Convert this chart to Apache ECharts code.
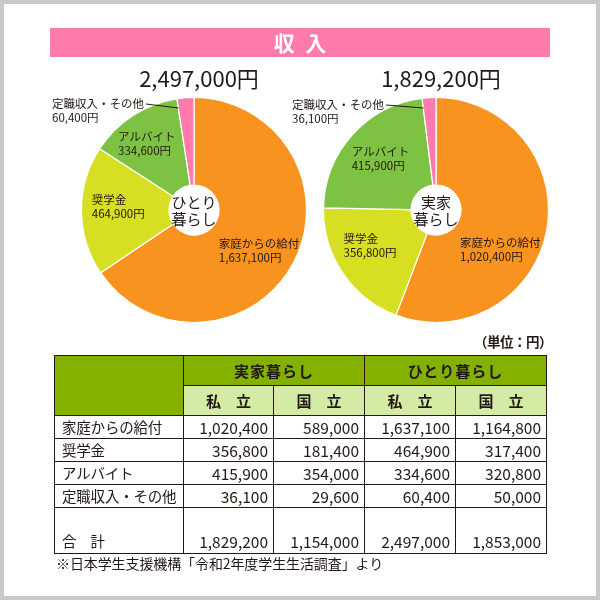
<!DOCTYPE html>
<html>
<head>
<meta charset="utf-8">
<script src="https://cdn.jsdelivr.net/npm/echarts@6/dist/echarts.min.js"></script>
<style>
html,body{margin:0;padding:0;background:#fff;}
#frame{position:relative;width:600px;height:600px;background:#c9c9c9;overflow:hidden;font-family:'Noto Sans CJK JP','Noto Sans',sans-serif;color:#231815;}
#inner{position:absolute;left:4px;top:4px;width:592px;height:592px;background:#fff;}
#chart{position:absolute;left:0;top:0;width:600px;height:600px;}
#unit{position:absolute;left:440px;width:112px;text-align:right;top:331px;font-size:13.5px;font-weight:bold;line-height:20px;letter-spacing:-0.5px;}
#tbl{position:absolute;left:54px;top:355px;border-collapse:collapse;table-layout:fixed;width:493px;}
#tbl td{border:1px solid #231815;padding:0;font-size:15px;line-height:18px;white-space:nowrap;overflow:hidden;}
#tbl td.hd1{background:#84B100;font-weight:bold;text-align:center;letter-spacing:1px;}
#tbl td.hd2{background:#D3EBA5;font-weight:bold;text-align:center;}
#tbl td.rowname{padding-left:7px;text-align:left;font-size:14.5px;letter-spacing:-0.2px;}
#tbl td.num{padding-right:5px;text-align:right;font-size:15.5px;}
#tbl tr.total td{vertical-align:bottom;padding-bottom:3px;}
#note{position:absolute;left:56px;top:553px;font-size:14px;line-height:20px;white-space:nowrap;letter-spacing:-0.1px;}
</style>
</head>
<body>
<div id="frame">
  <div id="inner"></div>
  <div id="chart"></div>
  <div id="unit"></div>
  <table id="tbl"></table>
  <div id="note">※日本学生支援機構「令和2年度学生生活調査」より</div>
</div>
<script>
// ---- data ----
const pieCategories = ['家庭からの給付', '奨学金', 'アルバイト', '定職収入・その他'];
const hitoriValues = [1637100, 464900, 334600, 60400];
const jikkaValues = [1020400, 356800, 415900, 36100];
const pieTotals = [2497000, 1829200];
const pieCenterTitles = ['ひとり\n暮らし', '実家\n暮らし'];
const bannerTitle = '収\u2002入';

const tableGroupHeaders = ['実家暮らし', 'ひとり暮らし'];
const tableSubHeaders = ['私　立', '国　立', '私　立', '国　立'];
const tableRowNames = ['家庭からの給付', '奨学金', 'アルバイト', '定職収入・その他', '合　計'];
const jikkaShiritsu = [1020400, 356800, 415900, 36100, 1829200];
const jikkaKokuritsu = [589000, 181400, 354000, 29600, 1154000];
const hitoriShiritsu = [1637100, 464900, 334600, 60400, 2497000];
const hitoriKokuritsu = [1164800, 317400, 320800, 50000, 1853000];
const unitLabel = '（単位：円）';

// ---- styles / layout ----
const sliceColors = ['#F7931E', '#D7DF23', '#7DC242', '#FF7BAC'];
const pieCenters = [[194, 210], [436, 210]];
const pieRadius = [25, 112.5];
const labelOffsets = [
  [[-38.5, 6.5], [-30.5, -4], [-37, -6.5]],
  [[-46.5, 26.5], [-33, -4.3], [-31, -3]]
];
const pinkLabelPos = [[52, 111], [292, 112]];
const colWidths = [129, 90, 91, 91, 91];
const rowHeights = [30, 30, 23, 23, 23, 23, 46];
const FONT = "'Noto Sans CJK JP', 'Noto Sans', sans-serif";
const TXT = '#231815';

function fmt(n) { return n.toLocaleString('en-US'); }

// ---- table ----
(function buildTable() {
  const t = document.getElementById('tbl');
  let h = '<colgroup>' + colWidths.map(w => '<col style="width:' + w + 'px">').join('') + '</colgroup>';
  h += '<tr style="height:' + rowHeights[0] + 'px"><td class="hd1" rowspan="2"></td>' +
       tableGroupHeaders.map(g => '<td class="hd1" colspan="2">' + g + '</td>').join('') + '</tr>';
  h += '<tr style="height:' + rowHeights[1] + 'px">' + tableSubHeaders.map(s => '<td class="hd2">' + s + '</td>').join('') + '</tr>';
  const cols = [jikkaShiritsu, jikkaKokuritsu, hitoriShiritsu, hitoriKokuritsu];
  tableRowNames.forEach((name, r) => {
    const cls = r === tableRowNames.length - 1 ? ' class="total"' : '';
    h += '<tr' + cls + ' style="height:' + rowHeights[r + 2] + 'px"><td class="rowname">' + name + '</td>' +
         cols.map(c => '<td class="num">' + fmt(c[r]) + '</td>').join('') + '</tr>';
  });
  t.innerHTML = h;
  document.getElementById('unit').textContent = unitLabel;
})();

// ---- chart ----
const labelBase = {
  formatter: p => p.name + '\n' + fmt(p.value) + '円',
  color: TXT,
  fontSize: 11.5,
  lineHeight: 14,
  fontFamily: FONT
};

// main pie: slices + inside labels
function makeSeries(values, si) {
  return {
    type: 'pie',
    z: 2,
    center: pieCenters[si],
    radius: pieRadius,
    startAngle: 90,
    clockwise: true,
    avoidLabelOverlap: false,
    silent: true,
    itemStyle: { borderColor: '#ffffff', borderWidth: 1.2 },
    label: Object.assign({ show: true, position: 'inside' }, labelBase),
    labelLine: { show: false },
    emphasis: { disabled: true },
    data: values.map((v, i) => {
      const d = { value: v, name: pieCategories[i], itemStyle: { color: sliceColors[i] } };
      if (i === 3) d.label = { show: false };
      return d;
    }),
    labelLayout: function (p) {
      const off = labelOffsets[si][p.dataIndex];
      if (!off) return {};
      return {
        x: p.labelRect.x + p.labelRect.width / 2 + off[0],
        y: p.labelRect.y + p.labelRect.height / 2 + off[1],
        align: 'left', verticalAlign: 'middle'
      };
    }
  };
}

// overlay pie (transparent) drawing the small-slice label and its leader line on top
function makeOverlay(values, si) {
  return {
    type: 'pie',
    z: 5,
    center: pieCenters[si],
    radius: pieRadius,
    startAngle: 90,
    clockwise: true,
    avoidLabelOverlap: false,
    silent: true,
    itemStyle: { color: 'rgba(0,0,0,0)', borderWidth: 0 },
    label: Object.assign({ show: false, position: 'outside' }, labelBase),
    labelLine: { show: false },
    emphasis: { disabled: true },
    data: values.map((v, i) => {
      const d = { value: v, name: pieCategories[i] };
      if (i === 3) {
        d.label = { show: true, position: 'outside' };
        d.labelLine = { show: true, length: 8, length2: 0, lineStyle: { color: TXT, width: 1 } };
      }
      return d;
    }),
    labelLayout: function (p) {
      if (p.dataIndex !== 3) return {};
      const pos = pinkLabelPos[si];
      const w = p.labelRect.width, hh = p.labelRect.height;
      const sx = pos[0] + w + 2, sy = pos[1] - hh / 2 + 7;
      const ex = p.rect.x + 1.5, ey = p.rect.y + 10.5;
      return { x: pos[0], y: pos[1], align: 'left', verticalAlign: 'middle',
               labelLinePoints: [[sx, sy], [ex, ey]] };
    }
  };
}

const chart = echarts.init(document.getElementById('chart'), null, { renderer: 'canvas' });
const graphics = [
  { type: 'rect', shape: { x: 50, y: 28, width: 500, height: 29 }, style: { fill: '#FF7BAC' }, silent: true },
  { type: 'text', x: 300, y: 43, style: { text: bannerTitle, fill: '#ffffff', font: 'bold 21px ' + FONT, textAlign: 'center', textVerticalAlign: 'middle' }, silent: true }
];
pieCenters.forEach((c, i) => {
  graphics.push({ type: 'text', x: c[0] + 5, y: 79, style: { text: fmt(pieTotals[i]) + '円', fill: TXT, font: '22px ' + FONT, textAlign: 'center', textVerticalAlign: 'middle' }, silent: true, z: 10 });
  graphics.push({ type: 'text', x: c[0], y: c[1] + 1, style: { text: pieCenterTitles[i], fill: TXT, font: '15px ' + FONT, lineHeight: 17, textAlign: 'center', textVerticalAlign: 'middle' }, silent: true, z: 10 });
});

chart.setOption({
  animation: false,
  backgroundColor: 'transparent',
  graphic: graphics,
  series: [
    makeSeries(hitoriValues, 0), makeSeries(jikkaValues, 1),
    makeOverlay(hitoriValues, 0), makeOverlay(jikkaValues, 1)
  ]
});
</script>
</body>
</html>
